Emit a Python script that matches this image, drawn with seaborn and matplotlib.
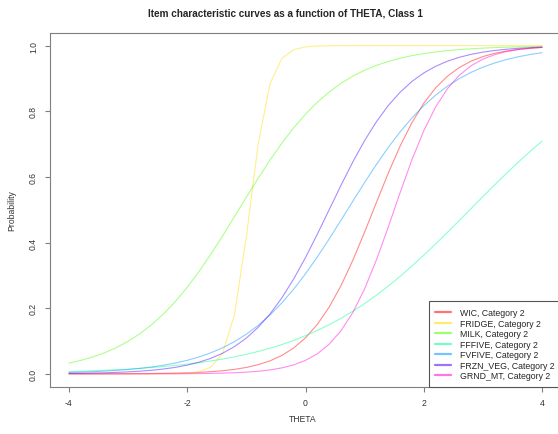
import pandas as pd
import matplotlib
matplotlib.use("Agg")
import matplotlib.pyplot as plt
import seaborn as sns

# theta grid (step 0.2) and probabilities
theta = [-4.0, -3.8, -3.6, -3.4, -3.2, -3.0, -2.8, -2.6, -2.4, -2.2,
         -2.0, -1.8, -1.6, -1.4, -1.2, -1.0, -0.8, -0.6, -0.4, -0.2,
         0.0, 0.2, 0.4, 0.6, 0.8, 1.0, 1.2, 1.4, 1.6, 1.8,
         2.0, 2.2, 2.4, 2.6, 2.8, 3.0, 3.2, 3.4, 3.6, 3.8, 4.0]

wic = [0.0001, 0.0001, 0.0002, 0.0003, 0.0004, 0.0005, 0.0008, 0.0011, 0.0016, 0.0022,
       0.0032, 0.0046, 0.0067, 0.0096, 0.0137, 0.0196, 0.0280, 0.0397, 0.0562, 0.0789,
       0.1098, 0.1507, 0.2034, 0.2687, 0.3459, 0.4322, 0.5227, 0.6118, 0.6940, 0.7655,
       0.8245, 0.8712, 0.9068, 0.9333, 0.9527, 0.9667, 0.9766, 0.9836, 0.9886, 0.9920, 0.9944]

fridge = [0.0, 0.0, 0.0, 0.0, 0.0, 0.0, 0.0, 0.0001, 0.0002, 0.0006,
          0.0020, 0.0064, 0.0204, 0.0635, 0.1810, 0.4182, 0.7006, 0.8839, 0.9612, 0.9877,
          0.9962, 0.9988, 0.9996, 0.9999, 1.0, 1.0, 1.0, 1.0, 1.0, 1.0,
          1.0, 1.0, 1.0, 1.0, 1.0, 1.0, 1.0, 1.0, 1.0, 1.0, 1.0]

milk = [0.0327, 0.0410, 0.0514, 0.0642, 0.0799, 0.0991, 0.1223, 0.1500, 0.1826, 0.2205,
        0.2637, 0.3119, 0.3647, 0.4209, 0.4793, 0.5382, 0.5960, 0.6513, 0.7029, 0.7497,
        0.7913, 0.8276, 0.8587, 0.8850, 0.9070, 0.9251, 0.9399, 0.9519, 0.9616, 0.9695,
        0.9757, 0.9807, 0.9847, 0.9879, 0.9904, 0.9924, 0.9940, 0.9953, 0.9962, 0.9970, 0.9977]

fffive = [0.0070, 0.0081, 0.0094, 0.0109, 0.0126, 0.0145, 0.0167, 0.0193, 0.0223, 0.0257,
          0.0296, 0.0341, 0.0393, 0.0452, 0.0519, 0.0596, 0.0683, 0.0782, 0.0894, 0.1020,
          0.1162, 0.1320, 0.1497, 0.1692, 0.1908, 0.2143, 0.2399, 0.2676, 0.2971, 0.3285,
          0.3615, 0.3958, 0.4312, 0.4673, 0.5037, 0.5402, 0.5762, 0.6113, 0.6454, 0.6781, 0.7091]

fvfive = [0.0042, 0.0053, 0.0067, 0.0084, 0.0106, 0.0133, 0.0168, 0.0210, 0.0264, 0.0331,
          0.0413, 0.0515, 0.0642, 0.0796, 0.0983, 0.1209, 0.1478, 0.1795, 0.2162, 0.2581,
          0.3049, 0.3562, 0.4110, 0.4680, 0.5260, 0.5832, 0.6383, 0.6900, 0.7373, 0.7797,
          0.8170, 0.8492, 0.8765, 0.8995, 0.9186, 0.9344, 0.9472, 0.9577, 0.9662, 0.9730, 0.9784]

frzn_veg = [0.0014, 0.0018, 0.0025, 0.0033, 0.0045, 0.0061, 0.0082, 0.0110, 0.0148, 0.0198,
            0.0266, 0.0356, 0.0474, 0.0630, 0.0832, 0.1091, 0.1419, 0.1824, 0.2315, 0.2891,
            0.3543, 0.4256, 0.5000, 0.5744, 0.6457, 0.7109, 0.7685, 0.8176, 0.8581, 0.8909,
            0.9168, 0.9370, 0.9526, 0.9644, 0.9734, 0.9802, 0.9852, 0.9890, 0.9918, 0.9939, 0.9955]

grnd_mt = [0.0, 0.0, 0.0, 0.0, 0.0001, 0.0001, 0.0001, 0.0002, 0.0003, 0.0004,
           0.0006, 0.0010, 0.0015, 0.0023, 0.0034, 0.0052, 0.0079, 0.0120, 0.0182, 0.0274,
           0.0411, 0.0612, 0.0903, 0.1313, 0.1869, 0.2592, 0.3475, 0.4477, 0.5523, 0.6525,
           0.7408, 0.8131, 0.8687, 0.9097, 0.9388, 0.9589, 0.9726, 0.9818, 0.9880, 0.9921, 0.9948]

items = ["WIC", "FRIDGE", "MILK", "FFFIVE", "FVFIVE", "FRZN_VEG", "GRND_MT"]
series = [wic, fridge, milk, fffive, fvfive, frzn_veg, grnd_mt]
colors = ["#FF0000", "#FFDB00", "#49FF00", "#00FF92", "#0092FF", "#4900FF", "#FF00DB"]

labels = [f"{name}, Category 2" for name in items]
rows = []
for lab, vals in zip(labels, series):
    for t, p in zip(theta, vals):
        rows.append({"THETA": t, "Probability": p, "item": lab})
df = pd.DataFrame(rows)

sns.set_theme(style="white")
plt.rcParams["font.family"] = ["Liberation Sans", "DejaVu Sans"]
plt.rcParams["axes.unicode_minus"] = False

fig = plt.figure(figsize=(5.58, 4.35), dpi=100)
ax = fig.add_axes([50 / 558, 47 / 435, 511 / 558, 354.5 / 435])

sns.lineplot(data=df, x="THETA", y="Probability", hue="item", hue_order=labels,
             palette=dict(zip(labels, colors)), estimator=None, sort=False,
             linewidth=0.8, alpha=0.45, ax=ax)

ax.set_xlim(-4.32, 4.32)
ax.set_ylim(-0.04, 1.04)
ax.set_xticks([-4, -2, 0, 2, 4])
ax.set_xticklabels(["-4", "-2", "0", "2", "4"])
ax.set_yticks([0, 0.2, 0.4, 0.6, 0.8, 1.0])
ax.set_yticklabels(["0.0", "0.2", "0.4", "0.6", "0.8", "1.0"], rotation=90, va="center")
ax.tick_params(direction="out", length=3.6, width=0.8, color="#7f7f7f",
               labelsize=6.2, labelcolor="#333333", bottom=True, left=True)
ax.tick_params(axis="x", pad=4)
ax.tick_params(axis="y", pad=5)
for s in ax.spines.values():
    s.set_color("#7f7f7f")
    s.set_linewidth(0.8)

ax.set_xlabel("THETA", fontsize=6.2, color="#333333")
ax.set_ylabel("Probability", fontsize=6.2, color="#333333")
ax.xaxis.set_label_coords(0.495, -0.09)
ax.xaxis.label.set_va("center")
ax.yaxis.set_label_coords(-0.0744, 0.5)
ax.yaxis.label.set_va("center")

handles, labs = ax.get_legend_handles_labels()
leg = ax.legend(handles, labs, loc="lower right", bbox_to_anchor=(1, 0), borderaxespad=0,
                fontsize=6.3, frameon=True, fancybox=False, edgecolor="#555555",
                framealpha=1, handlelength=1.8, handletextpad=1.0, labelspacing=0.18,
                borderpad=0.75)
leg.get_frame().set_linewidth(0.8)
for line in leg.get_lines():
    line.set_linewidth(1.6)
    line.set_alpha(0.55)

fig.text(285.5 / 558, 1 - 13.3 / 435,
         "Item characteristic curves as a function of THETA, Class 1",
         ha="center", va="center", fontsize=7.2, fontweight="bold")

fig.savefig("out.png", dpi=100)
